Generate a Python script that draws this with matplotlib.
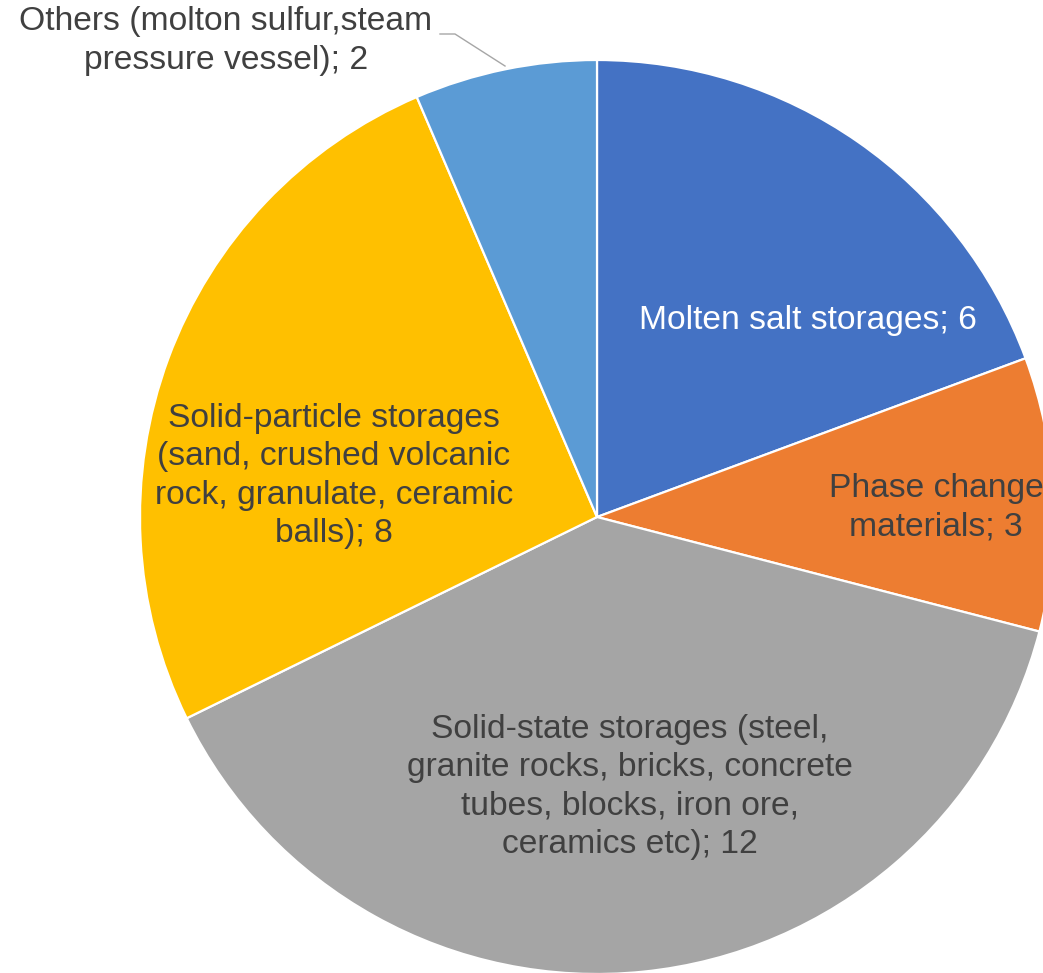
import matplotlib
matplotlib.use("Agg")
import matplotlib.pyplot as plt

categories = [
    "Molten salt storages",
    "Phase change\nmaterials",
    "Solid-state storages (steel,\ngranite rocks, bricks, concrete\ntubes, blocks, iron ore,\nceramics etc)",
    "Solid-particle storages\n(sand, crushed volcanic\nrock, granulate, ceramic\nballs)",
    "Others (molton sulfur,steam\npressure vessel)",
]
values = [6, 3, 12, 8, 2]

colors = ["#4472C4", "#ED7D31", "#A5A5A5", "#FFC000", "#5B9BD5"]
text_colors = ["white", "#404040", "#404040", "#404040", "#404040"]
# label centres in image pixel coords (x, y from top)
label_pos = [(808, 320), (936, 508), (630, 787), (334, 476), (226, 41)]

W, H = 1043, 973
plt.rcParams['font.family'] = ['Liberation Sans', 'DejaVu Sans']
fig = plt.figure(figsize=(W / 100, H / 100), dpi=100)
ax = fig.add_axes([0, 0, 1, 1])

cx, cy, r = 597, H - 517, 457
wedges, _ = ax.pie(values, colors=colors, startangle=90, counterclock=False,
                   center=(cx, cy), radius=r,
                   wedgeprops=dict(edgecolor="white", linewidth=1.6))
ax.set_xlim(0, W)
ax.set_ylim(0, H)
ax.set_aspect("equal")
ax.axis("off")

for cat, val, (px, py), tc in zip(categories, values, label_pos, text_colors):
    ax.text(px, H - py, f"{cat}; {val}", ha="center", va="center",
            fontsize=24.2, color=tc, linespacing=1.3, multialignment="center")

# leader line for "Others"
ax.plot([440, 455, 505], [H - 34, H - 34, H - 66], color="#A6A6A6", lw=1.0)

fig.savefig("out.png", dpi=100)
